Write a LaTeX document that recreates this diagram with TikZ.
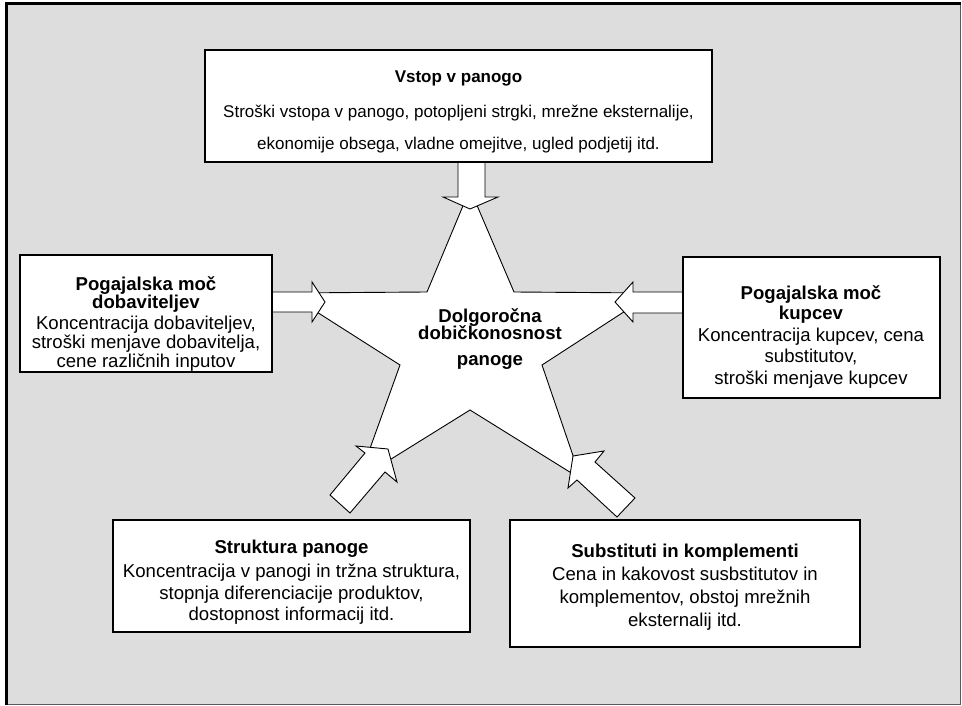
\documentclass[tikz,border=0pt]{standalone}
\usepackage{fontspec}
\setmainfont{Liberation Sans}
\definecolor{bggray}{HTML}{DDDDDD}
\begin{document}
\begin{tikzpicture}[x=1pt,y=-1pt,
  box/.style={draw=black, fill=white, line width=1.2pt, inner sep=0pt},
  txt/.style={font=\fontsize{18.6}{20}\selectfont, anchor=base, inner sep=0pt},
  ttl/.style={font=\fontsize{18.6}{20}\selectfont\bfseries, anchor=base, inner sep=0pt},
  stxt/.style={font=\fontsize{17}{19}\selectfont, anchor=base, inner sep=0pt},
  sttl/.style={font=\fontsize{17}{19}\selectfont\bfseries, anchor=base, inner sep=0pt},
  blockarrow/.style={draw=black, fill=white, line width=0.9pt, line join=miter},
  starshape/.style={draw=black, fill=white, line width=0.9pt, line join=miter}]
\useasboundingbox (0,0) rectangle (962,706);
% frame
\fill[bggray] (6,4) rectangle (960,705);
\draw[line width=1pt, black!65] (960,3.5) -- (960,704.5) -- (6.5,704.5);
\draw[line width=3pt, black] (6.5,705) -- (6.5,3.5) -- (960.5,3.5);
% star
\draw[starshape] (470,189) -- (514,292) -- (653,293) -- (542,365) -- (581,479)
  -- (470,410) -- (359,479) -- (400,365) -- (287,293) -- (427,292) -- cycle;
% arrows
\draw[blockarrow] (458,162) -- (458,197) -- (443,197) -- (470,209) -- (498,197) -- (485,197) -- (485,162) -- cycle;
\draw[blockarrow] (272,292) -- (312,292) -- (312,282) -- (325,302) -- (312,322) -- (312,312) -- (272,312) -- cycle;
\draw[blockarrow] (683,292) -- (633,292) -- (633,282) -- (615,302) -- (633,322) -- (633,313) -- (683,313) -- cycle;
\draw[blockarrow] (388,449) -- (397,482) -- (385,472) -- (350,513) -- (330,495) -- (365,453) -- (356,446) -- cycle;
\draw[blockarrow] (573,456) -- (604,451) -- (595,462) -- (635,498) -- (617,517) -- (577,480) -- (568,488) -- cycle;
% boxes
\node[box, minimum width=507pt, minimum height=112pt] (vstop) at (458.5,106) {};
\node[box, minimum width=252pt, minimum height=117pt] (dob) at (146,313.5) {};
\node[box, minimum width=257pt, minimum height=141pt] (kup) at (811.5,327.5) {};
\node[box, minimum width=357pt, minimum height=112pt] (str) at (291.5,576) {};
\node[box, minimum width=350pt, minimum height=127pt] (sub) at (685,583.5) {};
% texts top
\node[sttl] (v1) at (458.5,83) {Vstop v panogo};
\node[stxt] (v2) at (458.5,118) {Stroški vstopa v panogo, potopljeni strgki, mrežne eksternalije,};
\node[stxt] (v3) at (458.5,150) {ekonomije obsega, vladne omejitve, ugled podjetij itd.};
% left
\node[ttl] (d1) at (146,290) {Pogajalska moč};
\node[ttl] (d2) at (146,308) {dobaviteljev};
\node[txt] (d3) at (146,329) {Koncentracija dobaviteljev,};
\node[txt] (d4) at (146,348) {stroški menjave dobavitelja,};
\node[txt] (d5) at (146,367) {cene različnih inputov};
% right
\node[ttl] (k1) at (811,299) {Pogajalska moč};
\node[ttl] (k2) at (811,319) {kupcev};
\node[txt] (k3) at (811,341) {Koncentracija kupcev, cena};
\node[txt] (k4) at (811,362) {substitutov,};
\node[txt] (k5) at (811,384) {stroški menjave kupcev};
% bottom left
\node[ttl] (s1) at (291.5,553) {Struktura panoge};
\node[txt] (s2) at (291.5,577) {Koncentracija v panogi in tržna struktura,};
\node[txt] (s3) at (291.5,599) {stopnja diferenciacije produktov,};
\node[txt] (s4) at (291.5,620) {dostopnost informacij itd.};
% bottom right
\node[ttl] (b1) at (685,557) {Substituti in komplementi};
\node[txt] (b2) at (685,580) {Cena in kakovost susbstitutov in};
\node[txt] (b3) at (685,603) {komplementov, obstoj mrežnih};
\node[txt] (b4) at (685,626) {eksternalij itd.};
% star text
\node[ttl] (c1) at (490,322) {Dolgoročna};
\node[ttl] (c2) at (490,339) {dobičkonosnost};
\node[ttl] (c3) at (490,365) {panoge};
\end{tikzpicture}
\end{document}
